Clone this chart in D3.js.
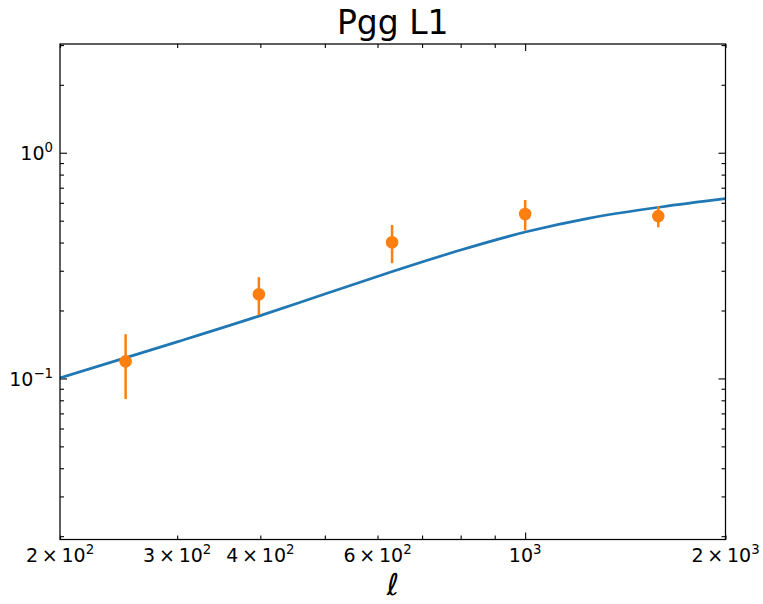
<!DOCTYPE html>
<html>
<head>
<meta charset="utf-8">
<script src="https://cdn.jsdelivr.net/npm/d3@7"></script>
<style>
  html, body { margin: 0; padding: 0; background: #fff; }
  svg { display: block; font-family: "DejaVu Sans", sans-serif; }
</style>
</head>
<body>
<svg id="chart" width="763" height="604"></svg>
<script>
// ---- data ----
const curveL = [200, 250, 300, 400, 500, 630, 800, 1000, 1250, 1600, 2000];
const curveV = [0.1006, 0.1230, 0.1452, 0.1898, 0.2366, 0.2969, 0.3706, 0.4452, 0.5133, 0.5750, 0.6257];
const pointL = [251, 398, 631, 1000, 1585];
const pointV = [0.119, 0.236, 0.401, 0.535, 0.524];
const pointErr = [0.038, 0.045, 0.077, 0.082, 0.056];
const xTickVals = [200, 300, 400, 600, 1000, 2000];
const xTickMant = ["2", "3", "4", "6", "", "2"];
const xTickExp = ["2", "2", "2", "2", "3", "3"];
const yTickVals = [1, 0.1];
const yTickExp = ["0", "\u22121"];
const titleText = "Pgg L1";
const xLabelText = "\u2113";

// ---- layout ----
const svg = d3.select("#chart");
const L = 60, R = 725.5, T = 44, B = 539.5;
const x = d3.scaleLog().domain([200, 2000]).range([L, R]);
const y = d3.scaleLog().domain([Math.pow(10, -1.7137), Math.pow(10, 0.4818)]).range([B, T]);

const fs = 19;

// clip
svg.append("defs").append("clipPath").attr("id", "clip")
  .append("rect").attr("x", L).attr("y", T).attr("width", R - L).attr("height", B - T);

// minor / major tick values
const xMajor = [1000];
const xMinor = [];
for (let d = 100; d <= 1000; d *= 10) for (let m = 2; m <= 9; m++) { const v = m * d; if (v >= 200 && v <= 2000) xMinor.push(v); }
const yMajor = [0.1, 1];
const yMinor = [];
for (let d = 0.01; d <= 1.0001; d *= 10) for (let m = 2; m <= 9; m++) { const v = m * d; if (v >= y.domain()[0] && v <= y.domain()[1]) yMinor.push(v); }

function axisG(axis, tx, ty) {
  const g = svg.append("g").attr("transform", `translate(${tx},${ty})`).call(axis);
  g.select(".domain").remove();
  g.selectAll(".tick line").attr("stroke", "#000").attr("stroke-width", 1.1);
  g.selectAll(".tick text").remove();
  return g;
}
// bottom/top/left/right ticks, inward
axisG(d3.axisBottom(x).tickValues(xMajor).tickSize(-7).tickFormat(""), 0, B);
axisG(d3.axisBottom(x).tickValues(xMinor).tickSize(-4).tickFormat(""), 0, B);
axisG(d3.axisTop(x).tickValues(xMajor).tickSize(-7).tickFormat(""), 0, T);
axisG(d3.axisTop(x).tickValues(xMinor).tickSize(-4).tickFormat(""), 0, T);
axisG(d3.axisLeft(y).tickValues(yMajor).tickSize(-7).tickFormat(""), L, 0);
axisG(d3.axisLeft(y).tickValues(yMinor).tickSize(-4).tickFormat(""), L, 0);
axisG(d3.axisRight(y).tickValues(yMajor).tickSize(-7).tickFormat(""), R, 0);
axisG(d3.axisRight(y).tickValues(yMinor).tickSize(-4).tickFormat(""), R, 0);

// x tick labels
xTickVals.forEach((v, i) => {
  const t = svg.append("text").attr("x", x(v)).attr("y", 562)
    .attr("text-anchor", "middle").attr("font-size", fs).attr("fill", "#000");
  if (xTickMant[i]) t.append("tspan").text(xTickMant[i] + "\u2009\u00d7\u200910");
  else t.append("tspan").text("10");
  t.append("tspan").attr("dy", -8).attr("font-size", fs * 0.7).text(xTickExp[i]);
});
// y tick labels
yTickVals.forEach((v, i) => {
  const t = svg.append("text").attr("x", 53).attr("y", y(v) + 7.5)
    .attr("text-anchor", "end").attr("font-size", fs).attr("fill", "#000");
  t.append("tspan").text("10");
  t.append("tspan").attr("dy", -8).attr("font-size", fs * 0.7).text(yTickExp[i]);
});

// curve
const plot = svg.append("g").attr("clip-path", "url(#clip)");
const line = d3.line().x(d => x(d[0])).y(d => y(d[1])).curve(d3.curveMonotoneX);
plot.append("path").datum(curveL.map((l, i) => [l, curveV[i]]))
  .attr("d", line).attr("fill", "none").attr("stroke", "#1f77b4").attr("stroke-width", 2.7);

// error bars + points
const pts = pointL.map((l, i) => ({ l, v: pointV[i], e: pointErr[i] }));
plot.selectAll(".eb").data(pts).enter().append("line")
  .attr("x1", d => x(d.l)).attr("x2", d => x(d.l))
  .attr("y1", d => y(d.v + d.e)).attr("y2", d => y(d.v - d.e))
  .attr("stroke", "#ff7f0e").attr("stroke-width", 2.5);
plot.selectAll(".pt").data(pts).enter().append("circle")
  .attr("cx", d => x(d.l)).attr("cy", d => y(d.v)).attr("r", 6.3)
  .attr("fill", "#ff7f0e");

// frame
svg.append("rect").attr("x", L).attr("y", T).attr("width", R - L).attr("height", B - T)
  .attr("fill", "none").attr("stroke", "#000").attr("stroke-width", 1.25);

// title
svg.append("text").attr("x", (L + R) / 2).attr("y", 34).attr("text-anchor", "middle")
  .attr("font-size", 33).attr("fill", "#000").text(titleText);
// x label
svg.append("text").attr("x", (L + R) / 2).attr("y", 595).attr("text-anchor", "middle")
  .attr("font-size", 30).attr("font-style", "italic").attr("fill", "#000").text(xLabelText);
</script>
</body>
</html>
